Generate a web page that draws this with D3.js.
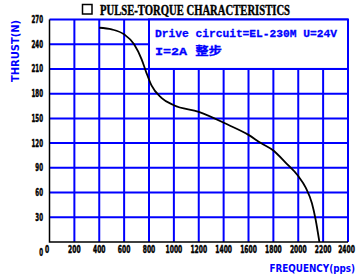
<!DOCTYPE html>
<html>
<head>
<meta charset="utf-8">
<script src="https://cdn.jsdelivr.net/npm/d3@7"></script>
<style>
  html, body { margin: 0; padding: 0; background: #fff; }
  svg { display: block; }
</style>
</head>
<body>
<div id="chart"></div>
<script>
// data
const freq = [400, 500, 600, 680, 740, 780, 820, 900, 1000, 1200, 1440, 1600, 1700, 1800, 1900, 2000, 2060, 2110, 2140, 2170];
const thrust = [260, 258, 252, 240, 222, 205, 190, 175, 166, 158, 142, 130, 120, 111, 96, 80, 66, 47, 27, 0];
const xTicks = [0, 200, 400, 600, 800, 1000, 1200, 1400, 1600, 1800, 2000, 2200, 2400];
const yTicks = [0, 30, 60, 90, 120, 150, 180, 210, 240, 270];
const noteLines = ["Drive circuit=EL-230M U=24V", "I=2A  整步"];

const W = 358, H = 276;
const blue = "#0000ff";

const svg = d3.select("#chart")
  .append("svg")
  .attr("width", W)
  .attr("height", H);

// scales
const x = d3.scaleLinear().domain([0, 2400]).range([49.5, 348]);
const y = d3.scaleLinear().domain([0, 270]).range([242, 19.5]);

// grid
svg.append("g")
  .selectAll("line")
  .data(xTicks.slice(1))
  .enter()
  .append("line")
  .attr("x1", d => x(d))
  .attr("x2", d => x(d))
  .attr("y1", y(0))
  .attr("y2", y(270))
  .attr("stroke", blue)
  .attr("stroke-width", 2);

svg.append("g")
  .selectAll("line")
  .data(yTicks.slice(1))
  .enter()
  .append("line")
  .attr("x1", x(0))
  .attr("x2", x(2400))
  .attr("y1", d => y(d))
  .attr("y2", d => y(d))
  .attr("stroke", blue)
  .attr("stroke-width", 2);

// note box covers part of grid
svg.append("rect")
  .attr("x", x(800))
  .attr("y", y(270))
  .attr("width", x(2400) - x(800))
  .attr("height", y(210) - y(270))
  .attr("fill", "#fff")
  .attr("stroke", blue)
  .attr("stroke-width", 2);

svg.selectAll(".note")
  .data(noteLines)
  .enter()
  .append("text")
  .attr("class", "note")
  .attr("x", 155)
  .attr("y", (d, i) => 37 + i * 18)
  .attr("fill", blue)
  .attr("stroke", blue)
  .attr("stroke-width", 0.3)
  .style("font-family", "'Liberation Mono', 'Noto Sans CJK SC', monospace")
  .style("font-size", "11.5px")
  .style("font-weight", 700)
  .attr("textLength", (d, i) => i === 0 ? 182 : 67)
  .attr("lengthAdjust", "spacingAndGlyphs")
  .text(d => d);

// black axes
svg.append("path")
  .attr("d", `M${x(0)},${y(270)}V${y(0)}H${x(2400)}`)
  .attr("fill", "none")
  .attr("stroke", "#000")
  .attr("stroke-width", 1.5);

// curve
const line = d3.line()
  .x(d => x(d[0]))
  .y(d => y(d[1]))
  .curve(d3.curveMonotoneX);

svg.append("path")
  .datum(freq.map((f, i) => [f, thrust[i]]))
  .attr("d", line)
  .attr("fill", "none")
  .attr("stroke", "#000")
  .attr("stroke-width", 1.8);

// tick labels (squeezed horizontally like the original)
svg.append("g")
  .selectAll("text")
  .data(yTicks)
  .enter()
  .append("text")
  .attr("transform", d => `translate(43,${(d === 0 ? y(d) + 10 : y(d)) + 3.5}) scale(0.55,1)`)
  .attr("text-anchor", "end")
  .attr("stroke", "#000")
  .attr("stroke-width", 0.5)
  .style("font-family", "'DejaVu Sans', sans-serif")
  .style("font-size", "10px")
  .style("font-weight", 700)
  .text(d => d);

svg.append("g")
  .selectAll("text")
  .data(xTicks)
  .enter()
  .append("text")
  .attr("transform", d => `translate(${d === 0 ? x(d) - 2.5 : d === 2400 ? x(d) - 1.5 : x(d)},252.5) scale(0.6,1)`)
  .attr("text-anchor", "middle")
  .attr("stroke", "#000")
  .attr("stroke-width", 0.5)
  .style("font-family", "'DejaVu Sans', sans-serif")
  .style("font-size", "10px")
  .style("font-weight", 700)
  .text(d => d);

// axis titles
svg.append("text")
  .attr("transform", "translate(19,51) rotate(-90)")
  .attr("text-anchor", "middle")
  .attr("fill", blue)
  .style("font-family", "'DejaVu Sans', sans-serif")
  .style("font-size", "10px")
  .style("font-weight", 700)
  .attr("textLength", 62)
  .attr("lengthAdjust", "spacingAndGlyphs")
  .text("THRUST(N)");

svg.append("text")
  .attr("transform", "translate(355,272) scale(0.8,1)")
  .attr("text-anchor", "end")
  .attr("fill", blue)
  .style("font-family", "'DejaVu Sans', sans-serif")
  .style("font-size", "11px")
  .style("font-weight", 700)
  .text("FREQUENCY(pps)");

// title
svg.append("rect")
  .attr("x", 82.5)
  .attr("y", 4.5)
  .attr("width", 9.5)
  .attr("height", 9.5)
  .attr("fill", "none")
  .attr("stroke", "#000")
  .attr("stroke-width", 1.5);

svg.append("text")
  .attr("x", 100)
  .attr("y", 15)
  .attr("stroke", "#000")
  .attr("stroke-width", 0.4)
  .style("font-family", "'Liberation Serif', serif")
  .style("font-size", "14px")
  .style("font-weight", 700)
  .attr("textLength", 190)
  .attr("lengthAdjust", "spacingAndGlyphs")
  .text("PULSE-TORQUE CHARACTERISTICS");
</script>
</body>
</html>
